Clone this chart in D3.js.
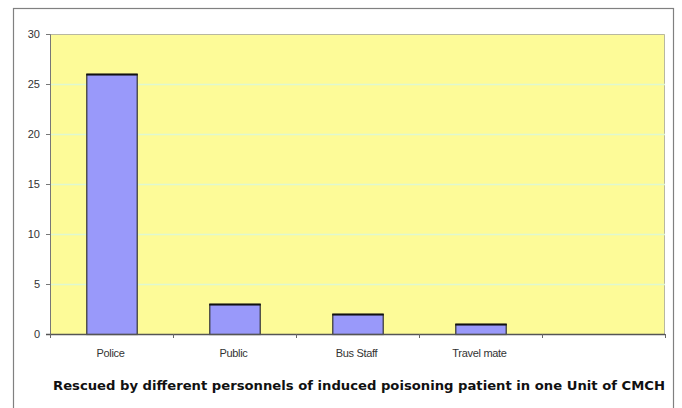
<!DOCTYPE html>
<html>
<head>
<meta charset="utf-8">
<script src="https://cdn.jsdelivr.net/npm/d3@7"></script>
<style>
  body { margin: 0; background: #fff; }
  svg { display: block; }
</style>
</head>
<body>
<div id="chart"></div>
<script>
// data
const categories = ["Police", "Public", "Bus Staff", "Travel mate", ""];
const values = [26, 3, 2, 1, null];
const yTicks = [0, 5, 10, 15, 20, 25, 30];
const title = "Rescued by different personnels of induced poisoning patient in one Unit of CMCH";

const W = 682, H = 408;
const margin = {top: 34, right: 17, bottom: 74, left: 50};
const w = W - margin.left - margin.right, h = H - margin.top - margin.bottom;

const svg = d3.select("#chart").append("svg").attr("width", W).attr("height", H);

// outer frame
svg.append("rect")
    .attr("x", 13.5).attr("y", 8.5).attr("width", 660).attr("height", 420)
    .attr("fill", "#fff").attr("stroke", "#808080").attr("stroke-width", 1.2);

const g = svg.append("g").attr("transform", `translate(${margin.left},${margin.top})`);

const x = d3.scaleBand().domain(categories.map((c, i) => i)).range([0, w]).paddingInner(0.59).paddingOuter(0.295);
const xb = d3.scaleBand().domain(categories.map((c, i) => i)).range([0, w]);
const y = d3.scaleLinear().domain([0, 30]).range([h, 0]);

// plot area
g.append("rect").attr("width", w).attr("height", h).attr("fill", "#fdfb98");
g.append("path").attr("d", `M0,0.5H${w - 0.5}V${h}`).attr("fill", "none").attr("stroke", "#b8b8a0");

// gridlines
g.selectAll(".grid").data(yTicks.filter(d => d > 0 && d < 30)).enter().append("line")
    .attr("x1", 0).attr("x2", w)
    .attr("y1", d => Math.round(y(d)) + 0.5).attr("y2", d => Math.round(y(d)) + 0.5)
    .attr("stroke", "#dff8d0").attr("stroke-width", 1.5);

// bars
g.selectAll(".bar").data(values.map((v, i) => ({i, v})).filter(d => d.v != null)).enter().append("rect")
    .attr("x", d => x(d.i) + 0.5)
    .attr("y", d => y(d.v) + 0.5)
    .attr("width", x.bandwidth())
    .attr("height", d => h - y(d.v))
    .attr("fill", "#9999fa")
    .attr("stroke", "#333").attr("stroke-width", 1.2);
g.selectAll(".bartop").data(values.map((v, i) => ({i, v})).filter(d => d.v != null)).enter().append("line")
    .attr("x1", d => x(d.i)).attr("x2", d => x(d.i) + x.bandwidth() + 1)
    .attr("y1", d => y(d.v) + 0.5).attr("y2", d => y(d.v) + 0.5)
    .attr("stroke", "#111").attr("stroke-width", 2);

// y axis
const ya = g.append("g").call(d3.axisLeft(y).tickValues(yTicks).tickSize(4).tickPadding(6));
ya.select(".domain").attr("stroke", "#777");
ya.selectAll(".tick line").attr("stroke", "#777");
ya.selectAll("text").attr("fill", "#333").style("font-family", "Liberation Sans, Arial, sans-serif").style("font-size", "11px");

// x axis
const xa = g.append("g").attr("transform", `translate(0,${h})`);
xa.append("line").attr("x1", -4).attr("x2", w).attr("y1", 0.5).attr("y2", 0.5).attr("stroke", "#555").attr("stroke-width", 1.5);
xa.selectAll(".xt").data(d3.range(categories.length + 1)).enter().append("line")
    .attr("x1", d => Math.round(d * xb.bandwidth()) + 0.5).attr("x2", d => Math.round(d * xb.bandwidth()) + 0.5)
    .attr("y1", 0).attr("y2", 4).attr("stroke", "#666");
xa.selectAll(".xl").data(categories).enter().append("text")
    .attr("x", (d, i) => xb(i) + xb.bandwidth() / 2 - 1)
    .attr("y", 23)
    .attr("text-anchor", "middle")
    .attr("fill", "#333")
    .style("font-family", "Liberation Sans Narrow, Arial Narrow, sans-serif")
    .style("font-size", "11px")
    .style("letter-spacing", "-0.3px")
    .text(d => d);

// caption
svg.append("text")
    .attr("x", 359).attr("y", 390)
    .attr("text-anchor", "middle")
    .attr("fill", "#111")
    .attr("textLength", 612)
    .attr("lengthAdjust", "spacingAndGlyphs")
    .style("font-family", "DejaVu Sans, Verdana, sans-serif")
    .style("font-size", "13px")
    .style("font-weight", "bold")
    .text(title);
</script>
</body>
</html>
